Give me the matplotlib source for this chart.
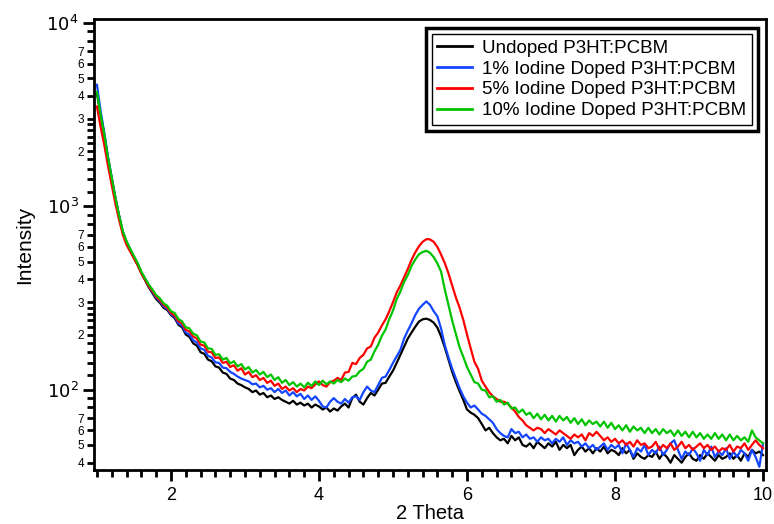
import numpy as np
import matplotlib
matplotlib.use("Agg")
from matplotlib import pyplot as plt
from matplotlib.ticker import FixedLocator, FuncFormatter, MultipleLocator
from matplotlib.patches import Rectangle

# 2 theta grid, 0.05 steps from 1 to 10
two_theta = np.linspace(1.0, 10.0, 181)

# intensities, one row = 0.5 deg of 2 theta
undoped = [
    4100, 3150, 2430, 1820, 1410, 1100, 880, 720, 635, 578,
    522, 478, 432, 395, 362, 336, 312, 298, 280, 272,
    255, 246, 226, 219, 200, 194, 179, 174, 160, 157,
    146, 143, 134, 132, 124, 122, 115, 113, 108, 106,
    103, 101, 97, 99, 94, 96, 91, 93, 89, 91,
    88, 86, 84, 87, 83, 85, 82, 84, 80, 83,
    81, 78, 80, 76, 79, 77, 81, 84, 80, 90,
    94, 86, 83, 90, 96, 93, 100, 108, 109, 118,
    127, 140, 155, 172, 190, 205, 220, 235, 242, 244,
    240, 232, 218, 195, 170, 146, 125, 110, 98, 88,
    78, 75, 73, 70, 65, 60, 62, 58, 55, 53,
    54, 51, 56, 53, 55, 50, 49, 51, 48, 52,
    50, 48, 51, 49, 52, 47, 50, 48, 50, 44,
    47, 49, 46, 48, 45, 48, 46, 49, 45, 47,
    46, 44, 48, 45, 47, 42, 45, 43, 42, 44,
    43, 46, 42, 45, 43, 40, 44, 42, 40, 43,
    45, 42, 41, 44, 42, 45, 43, 41, 44, 42,
    43, 45, 42, 44, 41, 45, 43, 47, 45, 46,
    44,
]
doped_1 = [
    4600, 3300, 2500, 1850, 1430, 1110, 885, 725, 640, 580,
    528, 485, 436, 400, 368, 342, 318, 304, 285, 276,
    258, 250, 230, 224, 205, 200, 186, 181, 168, 165,
    153, 150, 141, 140, 132, 131, 125, 122, 118, 115,
    113, 111, 107, 108, 103, 105, 100, 102, 97, 101,
    96, 99, 93, 97, 92, 95, 89, 93, 88, 92,
    87, 81, 80, 86, 90, 86, 84, 89, 85, 91,
    92, 88, 97, 104, 99, 97, 106, 116, 118, 128,
    140, 152, 165, 190, 210, 230, 255, 276, 290, 303,
    290, 268, 251, 215, 175, 150, 130, 115, 102, 92,
    85, 80, 82, 78, 74, 72, 69, 66, 61, 58,
    56, 55, 61, 58, 59, 55, 57, 54, 55, 52,
    55, 53, 54, 51, 54, 52, 55, 50, 53, 51,
    52, 49, 51, 48, 50, 47, 49, 51, 47, 50,
    48, 50, 45, 51, 47, 43, 48, 46, 50, 44,
    47, 45, 49, 44, 47, 51, 53, 47, 42, 46,
    44, 48, 45, 41, 47, 44, 49, 43, 46, 44,
    48, 42, 46, 43, 47, 45, 41, 47, 43, 38,
    51,
]
doped_5 = [
    3500, 2700, 2150, 1650, 1300, 1030, 840, 700, 615, 565,
    520, 478, 430, 398, 368, 345, 322, 308, 290, 280,
    262, 254, 236, 230, 212, 208, 195, 190, 176, 174,
    161, 160, 149, 150, 140, 142, 133, 136, 127, 131,
    121, 125, 117, 120, 113, 116, 109, 112, 105, 108,
    101, 104, 99, 102, 97, 101, 99, 104, 102, 107,
    111, 106, 104, 110, 112, 116, 113, 124, 125, 140,
    138, 149, 155, 168, 172, 192, 205, 224, 242, 268,
    300, 339, 370, 410, 455, 510, 560, 605, 640, 662,
    660, 640, 600, 545, 490, 430, 370, 318, 280, 240,
    200, 168, 142, 130, 112, 104, 97, 92, 89, 86,
    86, 84, 80, 76, 71, 68, 64, 62, 60, 62,
    61, 58, 61, 59, 57, 60, 58, 56, 54, 57,
    55, 57, 53, 58, 56, 59, 56, 53, 55, 52,
    54, 51, 53, 50, 52, 49, 53, 50, 51, 48,
    49, 52, 47, 50, 48, 51, 47, 49, 52, 48,
    50, 47, 49, 51, 48, 50, 47, 49, 46, 48,
    47, 50, 46, 49, 48, 51, 47, 50, 53, 50,
    48,
]
doped_10 = [
    4200, 3150, 2450, 1830, 1420, 1110, 890, 730, 645, 585,
    535, 490, 440, 405, 375, 352, 328, 315, 296, 287,
    268, 262, 243, 236, 219, 216, 202, 198, 183, 181,
    168, 167, 155, 156, 146, 149, 139, 143, 134, 138,
    129, 133, 124, 128, 121, 125, 117, 121, 113, 117,
    109, 113, 106, 110, 104, 108, 103, 109, 105, 111,
    106, 112, 107, 111, 108, 113, 110, 115, 112, 118,
    119, 126, 130, 142, 146, 162, 176, 197, 213, 243,
    270, 312, 343, 388, 422, 472, 512, 548, 563, 572,
    558, 528, 488, 440, 352, 290, 238, 201, 170, 151,
    133, 121, 110, 108, 100, 99, 91, 92, 86, 88,
    83, 85, 79, 80, 75, 78, 73, 75, 70, 74,
    69, 73, 68, 72, 67, 72, 68, 71, 66, 70,
    65, 69, 64, 68, 65, 67, 63, 67, 62, 66,
    61, 64, 60, 64, 59, 63, 60, 62, 58, 62,
    58, 61, 57, 61, 58, 60, 56, 60, 56, 59,
    55, 59, 55, 58, 54, 57, 54, 58, 54, 57,
    53, 57, 53, 56, 53, 55, 52, 60, 55, 53,
    51,
]

labels = [
    "Undoped P3HT:PCBM",
    "1% Iodine Doped P3HT:PCBM",
    "5% Iodine Doped P3HT:PCBM",
    "10% Iodine Doped P3HT:PCBM",
]
colors = ["#000000", "#1446ff", "#ff0000", "#00c400"]

plt.rcParams["font.family"] = ["Liberation Sans", "DejaVu Sans"]

fig = plt.figure(figsize=(7.74, 5.24), dpi=100)
ax = fig.add_axes([94 / 774, 1 - 470 / 524, 672 / 774, 451 / 524])

for ys, lab, col in zip([undoped, doped_1, doped_5, doped_10], labels, colors):
    ax.plot(two_theta, ys, color=col, lw=1.6, label=lab)

ax.set_yscale("log")
ax.set_xlim(0.96, 10.04)
ax.set_ylim(36.5, 10500)

# x ticks
ax.xaxis.set_major_locator(MultipleLocator(2))
ax.xaxis.set_minor_locator(MultipleLocator(0.2))

# y ticks: decades big, 2..7 labelled small
decades = [1e2, 1e3, 1e4]
minor_vals = []
for d in [10, 100, 1000]:
    for m in [1.2, 1.4, 1.6, 1.8, 2, 2.2, 2.4, 2.6, 2.8, 3, 4, 5, 6, 7, 8, 9]:
        minor_vals.append(m * d)
ax.yaxis.set_major_locator(FixedLocator(decades))
ax.yaxis.set_minor_locator(FixedLocator(minor_vals))
ax.yaxis.set_major_formatter(FuncFormatter(lambda v, p: r"$10^{%d}$" % round(np.log10(v))))


def minor_label(v, pos):
    mant = v / 10 ** np.floor(np.log10(v) + 1e-9)
    for k in [2, 3, 4, 5, 6, 7]:
        if abs(mant - k) < 1e-6:
            return str(k)
    return ""


ax.yaxis.set_minor_formatter(FuncFormatter(minor_label))

ax.tick_params(axis="both", which="major", direction="out", length=8, width=2,
               labelsize=13, pad=3)
ax.tick_params(axis="both", which="minor", direction="out", length=5, width=2)
ax.tick_params(axis="y", which="minor", labelsize=8.5, pad=2)
ax.tick_params(axis="x", which="major", pad=4)

for s in ax.spines.values():
    s.set_linewidth(2)

ax.set_xlabel("2 Theta", fontsize=14.5, labelpad=0)
ax.set_ylabel("Intensity", fontsize=15, labelpad=9)

leg = ax.legend(loc="upper right", bbox_to_anchor=(0.979, 0.967), borderaxespad=0,
                fontsize=13.5, handlelength=1.85, handletextpad=0.55, labelspacing=0.2,
                borderpad=0.3, fancybox=False, framealpha=1)
leg.get_frame().set_edgecolor("black")
leg.get_frame().set_linewidth(1.0)
for ln in leg.get_lines():
    ln.set_linewidth(2)

# double border round the legend
fig.canvas.draw()
bb = leg.get_window_extent()
pad = 6
fig.patches.append(Rectangle((bb.x0 - pad, bb.y0 - pad), bb.width + 2 * pad, bb.height + 2 * pad,
                             transform=None, fill=False, edgecolor="black", lw=2.5, zorder=10))

fig.savefig("out.png", dpi=100)
